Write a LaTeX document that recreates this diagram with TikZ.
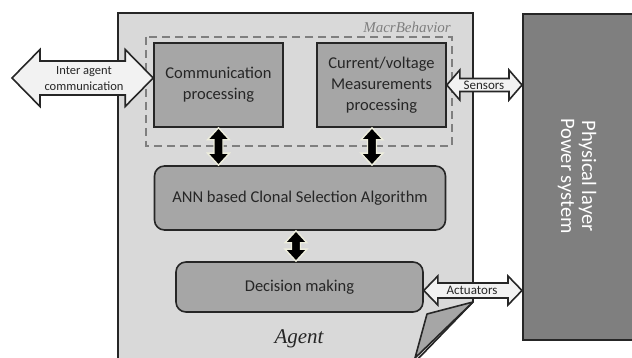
\documentclass[tikz,border=0pt]{standalone}
\usepackage{fontspec}
\setmainfont{Carlito}
\newfontfamily\serifit{Liberation Serif}
\usetikzlibrary{calc}
\definecolor{agentbg}{HTML}{D9D9D9}
\definecolor{boxbg}{HTML}{A6A6A6}
\definecolor{physbg}{HTML}{7F7F7F}
\definecolor{edge}{HTML}{262626}
\definecolor{arrbg}{HTML}{F2F2F2}
\definecolor{cream}{HTML}{EEEEDD}
\tikzset{
  boxnode/.style={draw=edge,line width=1.6pt,fill=boxbg,text=edge,align=center,inner sep=0pt,font=\fontsize{16.5}{21}\selectfont},
  roundbox/.style={boxnode,rounded corners=10pt},
  bigarrow/.style={draw=edge,line width=1.6pt,fill=arrbg},
  linkarrow/.style={draw=cream,line width=1.4pt,fill=black},
  arrowtext/.style={font=\fontsize{13}{16}\selectfont,text=edge,align=center,inner sep=0pt}
}
% horizontal double arrow: style, from, to, shaft half, head half, head length
\newcommand{\hdarrow}[6]{%
  \draw[#1] let \p1=#2, \p2=#3 in
   (\x1,\y1) -- (\x1+#6,\y1+#5) -- (\x1+#6,\y1+#4) -- (\x2-#6,\y1+#4) -- (\x2-#6,\y1+#5)
   -- (\x2,\y1) -- (\x2-#6,\y1-#5) -- (\x2-#6,\y1-#4) -- (\x1+#6,\y1-#4) -- (\x1+#6,\y1-#5) -- cycle;}
% vertical double arrow (from top to bottom)
\newcommand{\vdarrow}[6]{%
  \draw[#1] let \p1=#2, \p2=#3 in
   (\x1,\y1) -- (\x1+#5,\y1-#6) -- (\x1+#4,\y1-#6) -- (\x1+#4,\y2+#6) -- (\x1+#5,\y2+#6)
   -- (\x1,\y2) -- (\x1-#5,\y2+#6) -- (\x1-#4,\y2+#6) -- (\x1-#4,\y1-#6) -- (\x1-#5,\y1-#6) -- cycle;}
\begin{document}
\begin{tikzpicture}[x=1pt,y=-1pt]
\useasboundingbox (0,0) rectangle (632,358);
\clip (0,0) rectangle (632,358);
% agent page
\draw[draw=edge,line width=1.6pt,fill=agentbg] (118,13) -- (473,13) -- (473,302) -- (415,362) -- (118,362) -- cycle;
\draw[draw=edge,line width=1.6pt,fill=boxbg,line join=round] (427,314) -- (473,302) -- (415,358) -- cycle;
% physical layer
\node[draw=edge,line width=1.6pt,fill=physbg,minimum width=120pt,minimum height=326pt,anchor=north west,inner sep=0pt] (phys) at (522,13) {};
\node[rotate=-90,text=white,align=center,font=\fontsize{20.5}{21}\selectfont] (physt) at (577,176) {Physical layer\\Power system};
% macro behaviour dashed frame
\draw[draw=physbg,line width=1.6pt,dash pattern=on 8pt off 5pt] (146,37) rectangle (452,146);
\node[anchor=east,text=physbg,font=\serifit\itshape\fontsize{15}{18}\selectfont,inner sep=0pt] (macro) at (451,27) {MacrBehavior};
% boxes
\node[boxnode,minimum width=129pt,minimum height=84pt] (comm) at (218.5,85) {Communication\\processing};
\node[boxnode,minimum width=129pt,minimum height=84pt] (cv) at (381.5,85) {Current/voltage\\Measurements\\processing};
\node[roundbox,minimum width=291pt,minimum height=64pt] (ann) at (300,198) {ANN based Clonal Selection Algorithm};
\node[roundbox,minimum width=247pt,minimum height=50pt] (dec) at (299.5,287) {Decision making};
\node[font=\serifit\itshape\fontsize{21}{24}\selectfont,text=edge,inner sep=0pt] (agent) at (299,339) {Agent};
% external arrows
\coordinate (ia) at (12,78);
\hdarrow{bigarrow}{(ia)}{(comm.west|-ia)}{17pt}{28.5pt}{28pt}
\node[arrowtext,font=\fontsize{12.5}{16}\selectfont] (iat) at (84,79) {Inter agent\\communication};
\hdarrow{bigarrow}{(cv.east)}{(phys.west|-cv.east)}{6.5pt}{15pt}{13pt}
\node[arrowtext] (sen) at (484,85) {Sensors};
\coordinate (act) at (dec.east|-0,290.5);
\hdarrow{bigarrow}{(act)}{(phys.west|-act)}{7.5pt}{14.5pt}{14pt}
\node[arrowtext] (actt) at (472,290) {Actuators};
% internal links
\vdarrow{linkarrow}{(comm.south)}{(comm.south|-ann.north)}{4.5pt}{11pt}{12pt}
\vdarrow{linkarrow}{(cv.south-|372,0)}{(372,0|-ann.north)}{4.5pt}{11pt}{12pt}
\vdarrow{linkarrow}{(ann.south-|296,0)}{(296,0|-dec.north)}{4.5pt}{11pt}{12pt}
\end{tikzpicture}
\end{document}
